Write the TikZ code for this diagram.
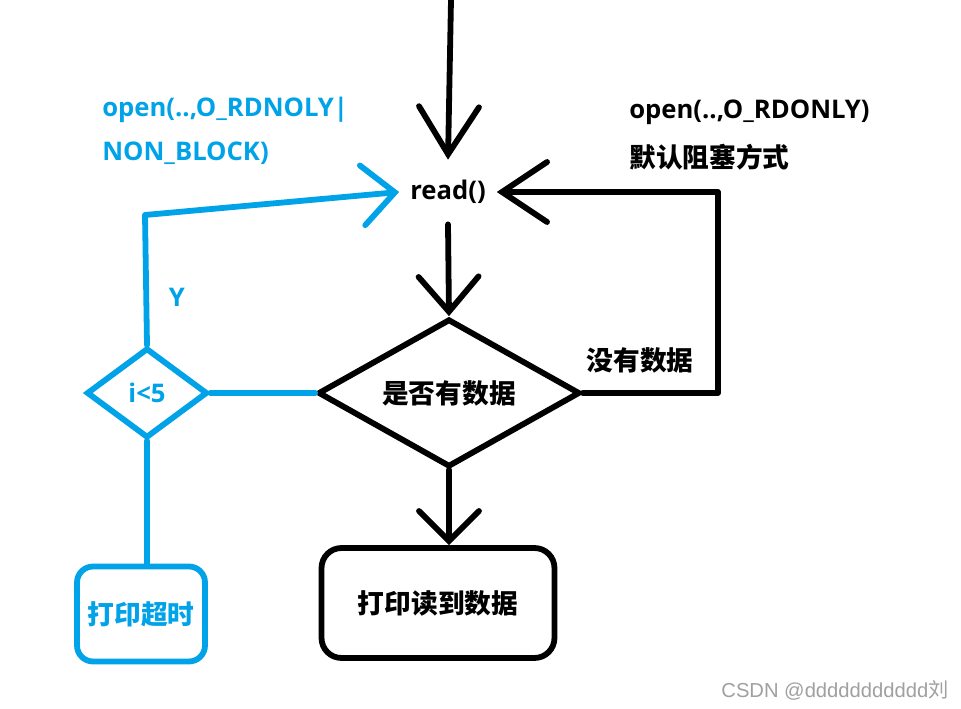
\documentclass[tikz,border=0pt]{standalone}
\usepackage{fontspec}
\setmainfont{Open Sans}
\newfontfamily\cjk{Noto Sans CJK SC}
\newfontfamily\markfont{Liberation Sans}
\usetikzlibrary{shapes.geometric,arrows.meta,positioning,calc}
\definecolor{paintblue}{HTML}{00A2E8}
\definecolor{markgray}{HTML}{A0A0A0}

\begin{document}
\begin{tikzpicture}[x=0.02cm, y=-0.02cm,
  every node/.style={font=\fontsize{14.6}{17}\selectfont\bfseries, inner sep=0pt},
  zh/.style={font=\cjk\fontsize{15.2}{18}\selectfont\bfseries},
  flow/.style={line width=3.3pt, line cap=round, line join=round},
  barb/.style={-{Straight Barb[length=#1, width=1.2cm, line cap=round]}},
  cond/.style={diamond, draw, line width=3.3pt, aspect=1.7},
  stepbox/.style={draw, line width=3.3pt, rounded corners=0.4cm}]
  \useasboundingbox[fill=white] (0,0) rectangle (961,709);
  % black main path
  \coordinate (top) at (451,0);
  \node[minimum width=1.94cm, minimum height=1.28cm] (read) at (448,192) {read()};
  \node[cond, zh, minimum width=5.24cm, minimum height=2.96cm] (chk) at (449,393) {是否有数据};
  \node[stepbox, zh, minimum width=4.66cm, minimum height=2.2cm] (show) at (438,603) {打印读到数据};
  \coordinate (rt) at (718,393);
  \draw[flow, barb=0.95cm] (top) -- (read.north);
  \draw[flow, barb=0.7cm] (read.south) -- (chk.north);
  \draw[flow, barb=0.6cm] (chk.south) -- (chk.south |- show.north);
  \draw[flow, barb=0.9cm] (chk.east) -- (rt) |- (read.east);
  \node[zh] (none) at (640,360) {没有数据};
  \node[anchor=west] (blk1) at (629,112) {open(..,O\_RDONLY)};
  \node[zh, anchor=west] (blk2) at (629,157) {默认阻塞方式};
  % blue timeout branch
  \begin{scope}[paintblue]
    \node[cond, draw=paintblue, minimum width=2.42cm, minimum height=1.8cm, aspect=1.3] (lim) at (147,393) {i<5};
    \node[stepbox, zh, draw=paintblue, rounded corners=0.32cm, minimum width=2.56cm, minimum height=1.9cm] (tmo) at (141,614) {打印超时};
    \coordinate (lt) at (145,215);
    \draw[flow, draw=paintblue] (chk.west) -- (lim.east);
    \draw[flow, draw=paintblue] (lim.south) -- (lim.south |- tmo.north);
    \draw[flow, draw=paintblue, barb=0.65cm] (lim.north) -- (lt) -- (read.west);
    \node (yes) at (177,297) {Y};
    \node[anchor=west] (nb1) at (102,110) {open(..,O\_RDNOLY|};
    \node[anchor=west] (nb2) at (102,153) {NON\_BLOCK)};
  \end{scope}
  \node[font=\markfont\fontsize{11.5}{14}\selectfont, text=markgray] (mark) at (835,690) {CSDN @ddddddddddd{\cjk 刘}};
\end{tikzpicture}
\end{document}
